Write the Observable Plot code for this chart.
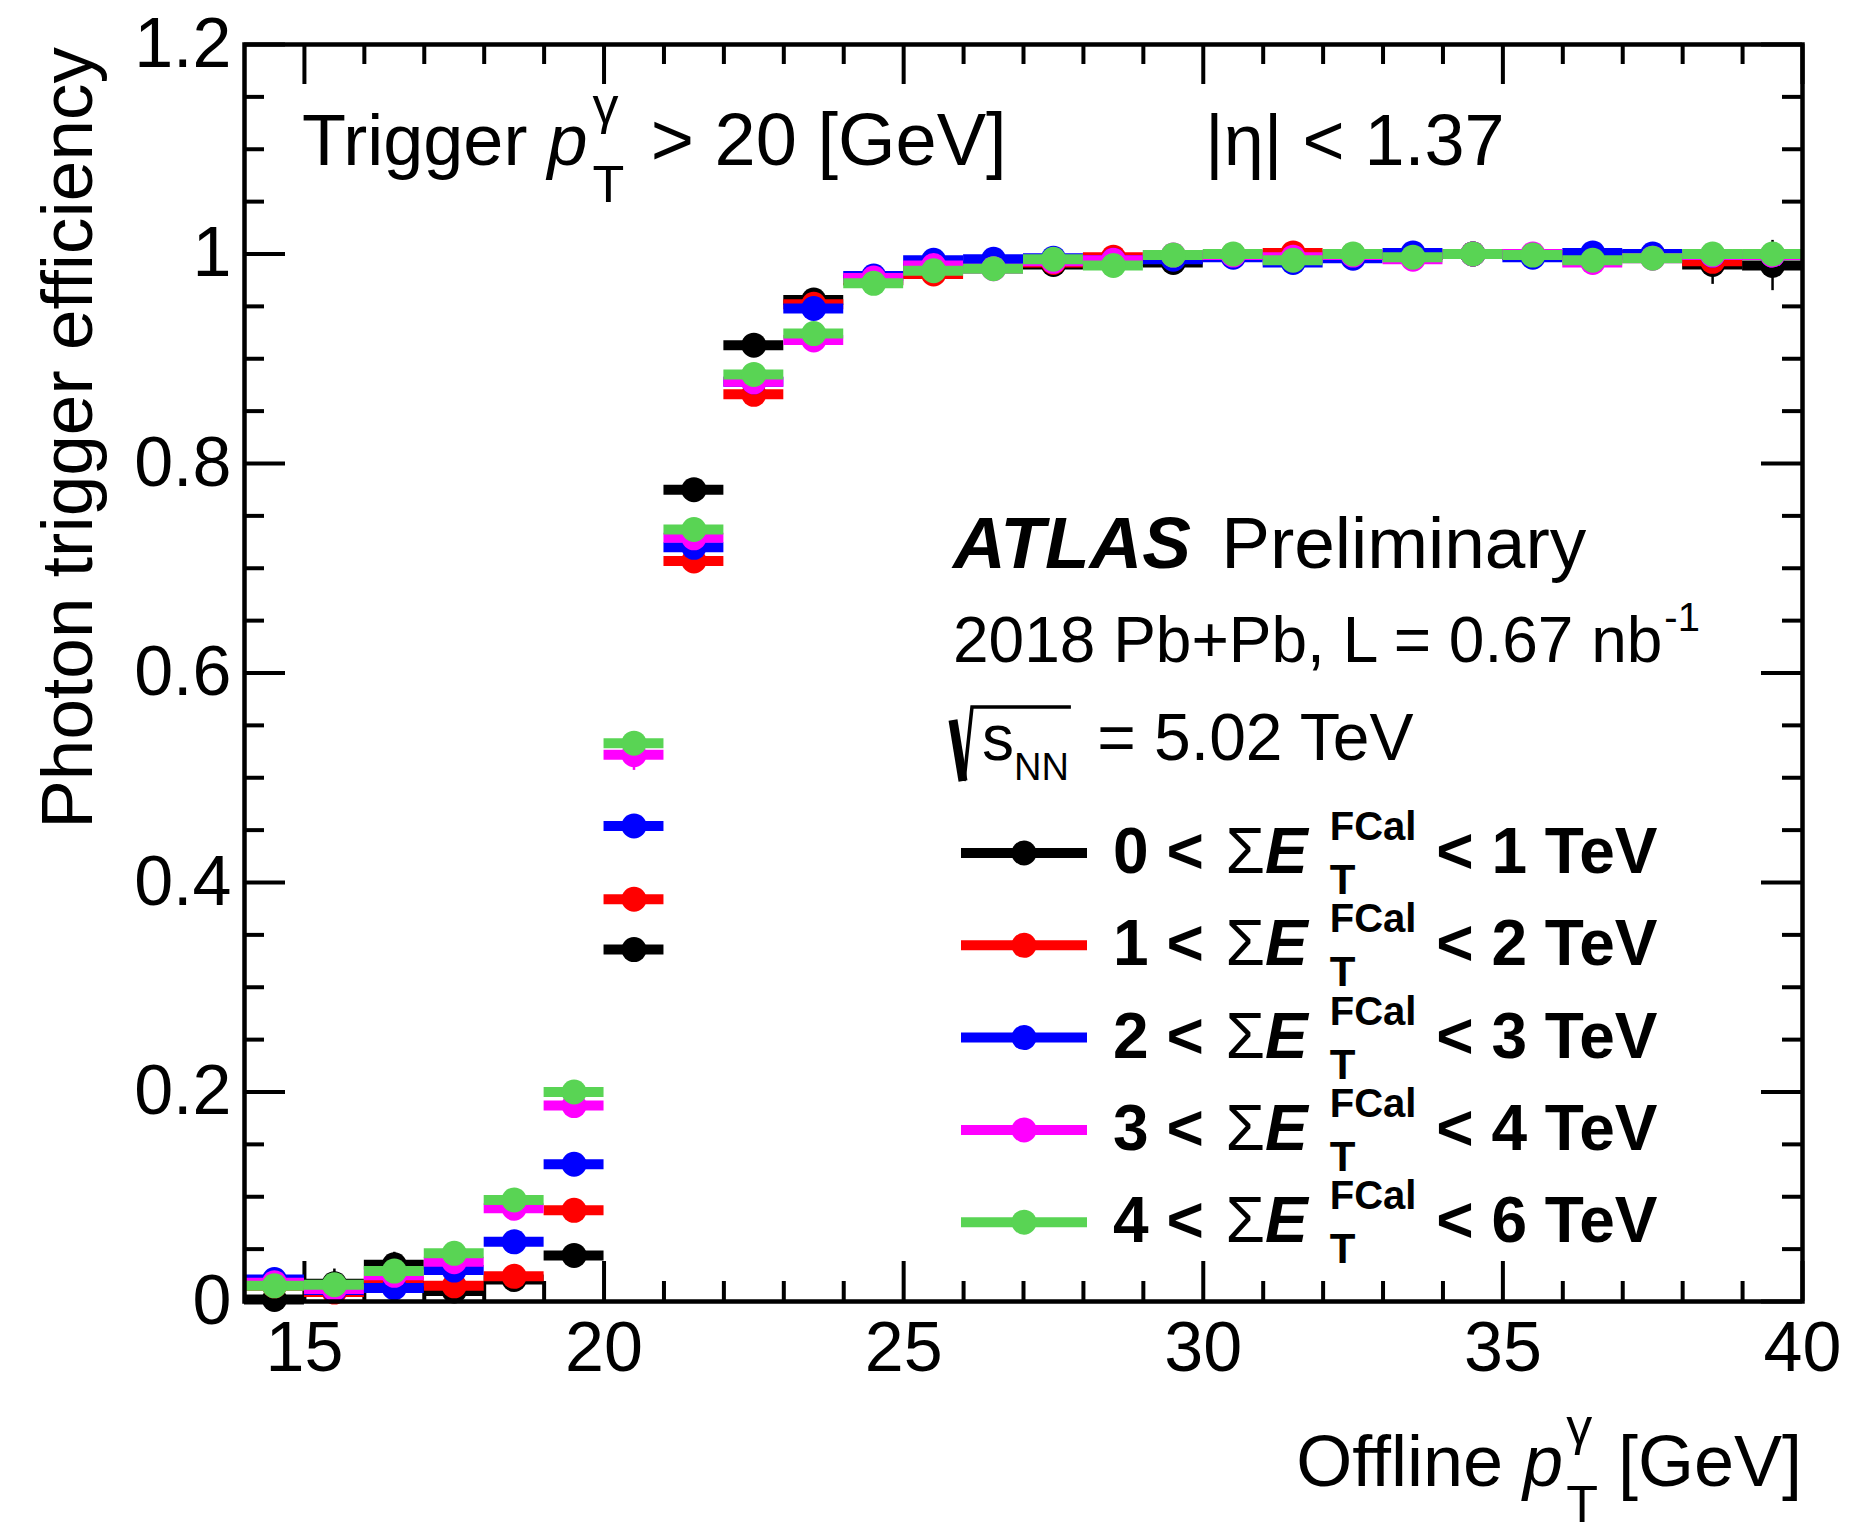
<!DOCTYPE html>
<html>
<head>
<meta charset="utf-8">
<script src="https://cdn.jsdelivr.net/npm/d3@7"></script>
<script src="https://cdn.jsdelivr.net/npm/@observablehq/plot@0.6"></script>
<style>
html, body { margin: 0; padding: 0; background: #ffffff; }
#chart svg { display: block; }
</style>
</head>
<body>
<div id="chart"></div>
<script>
// ---------------- DATA ----------------
const binLow    = [14, 15, 16, 17, 18, 19, 20, 21, 22, 23, 24, 25, 26, 27, 28, 29, 30, 31, 32, 33, 34, 35, 36, 37, 38, 39];
const binHigh   = [15, 16, 17, 18, 19, 20, 21, 22, 23, 24, 25, 26, 27, 28, 29, 30, 31, 32, 33, 34, 35, 36, 37, 38, 39, 40];
const binCenter = [14.5, 15.5, 16.5, 17.5, 18.5, 19.5, 20.5, 21.5, 22.5, 23.5, 24.5, 25.5, 26.5, 27.5, 28.5, 29.5, 30.5, 31.5, 32.5, 33.5, 34.5, 35.5, 36.5, 37.5, 38.5, 39.5];

const effFCal0to1 = [0.002, 0.017, 0.035, 0.010, 0.021, 0.044, 0.336, 0.775, 0.913, 0.956, 0.975, 0.986, 0.988, 0.990, 0.993, 0.992, 0.999, 0.998, 0.999, 0.999, 1.000, 0.999, 0.999, 0.999, 0.990, 0.989];
const effFCal1to2 = [0.015, 0.009, 0.019, 0.015, 0.024, 0.087, 0.384, 0.707, 0.866, 0.952, 0.975, 0.981, 0.988, 0.992, 0.997, 0.997, 0.999, 1.001, 0.999, 0.999, 1.000, 0.999, 0.998, 0.999, 0.993, 0.999];
const effFCal2to3 = [0.021, 0.011, 0.013, 0.030, 0.057, 0.131, 0.454, 0.720, 0.878, 0.948, 0.979, 0.994, 0.995, 0.996, 0.994, 0.995, 0.997, 0.992, 0.996, 1.001, 1.000, 0.997, 1.001, 1.000, 0.999, 0.999];
const effFCal3to4 = [0.018, 0.012, 0.025, 0.038, 0.089, 0.187, 0.522, 0.729, 0.878, 0.918, 0.977, 0.989, 0.986, 0.993, 0.994, 0.999, 0.999, 0.997, 0.999, 0.995, 1.000, 1.000, 0.992, 0.996, 0.999, 0.999];
const effFCal4to6 = [0.015, 0.016, 0.029, 0.046, 0.097, 0.200, 0.533, 0.737, 0.885, 0.924, 0.972, 0.984, 0.986, 0.995, 0.989, 0.999, 1.000, 0.994, 1.000, 0.997, 1.000, 0.999, 0.994, 0.996, 1.000, 1.000];

const errFCal0to1 = [0, 0.014, 0.012, 0, 0, 0, 0, 0, 0, 0, 0, 0, 0, 0, 0, 0, 0, 0, 0, 0, 0, 0, 0, 0, 0.019, 0.024];
const errFCal1to2 = [0, 0, 0, 0, 0, 0, 0, 0, 0, 0, 0, 0, 0, 0, 0, 0, 0, 0, 0, 0, 0, 0, 0, 0, 0, 0];
const errFCal2to3 = [0, 0, 0, 0, 0, 0, 0, 0, 0, 0, 0, 0, 0, 0, 0, 0, 0, 0, 0, 0, 0, 0, 0, 0, 0, 0];
const errFCal3to4 = [0, 0, 0, 0, 0, 0, 0.015, 0, 0, 0, 0, 0, 0, 0, 0, 0, 0, 0, 0, 0, 0, 0, 0, 0, 0, 0];
const errFCal4to6 = [0, 0, 0, 0, 0, 0, 0, 0, 0, 0, 0, 0, 0, 0, 0, 0, 0, 0, 0, 0, 0, 0, 0, 0, 0, 0];

const centralityLow  = [0, 1, 2, 3, 4];
const centralityHigh = [1, 2, 3, 4, 6];
const seriesColors   = ["#000000", "#ff0000", "#0000ff", "#ff00ff", "#59d454"];

const xMajorTicks = [15, 20, 25, 30, 35, 40];
const xMinorTicks = [16, 17, 18, 19, 21, 22, 23, 24, 26, 27, 28, 29, 31, 32, 33, 34, 36, 37, 38, 39];
const yMajorTicks = [0, 0.2, 0.4, 0.6, 0.8, 1, 1.2];
const yMinorTicks = [0.05, 0.1, 0.15, 0.25, 0.3, 0.35, 0.45, 0.5, 0.55, 0.65, 0.7, 0.75, 0.85, 0.9, 0.95, 1.05, 1.1, 1.15];

// ---------------- LAYOUT ----------------
const FONT = "'Liberation Sans', Arimo, Helvetica, Arial, sans-serif";
const W = 1849, H = 1523;
const mL = 244, mR = 47, mT = 44, mB = 222;
const frameW = W - mL - mR, frameH = H - mT - mB;
const majorLen = 40, minorLen = 20, tickW = 4;
const markerR = 12.5, barW = 10;

const effSeries = [effFCal0to1, effFCal1to2, effFCal2to3, effFCal3to4, effFCal4to6];
const errSeries = [errFCal0to1, errFCal1to2, errFCal2to3, errFCal3to4, errFCal4to6];

const rows = [];
effSeries.forEach((vals, s) => vals.forEach((v, i) => rows.push({
  s, lo: binLow[i], hi: binHigh[i], x: binCenter[i], y: v, err: errSeries[s][i]
})));

const marks = [];
// ticks (inside frame, all four sides)
marks.push(Plot.ruleX(xMinorTicks, {x: d => d, insetTop: frameH - minorLen, stroke: "#000", strokeWidth: tickW}));
marks.push(Plot.ruleX(xMinorTicks, {x: d => d, insetBottom: frameH - minorLen, stroke: "#000", strokeWidth: tickW}));
marks.push(Plot.ruleX(xMajorTicks, {x: d => d, insetTop: frameH - majorLen, stroke: "#000", strokeWidth: tickW}));
marks.push(Plot.ruleX(xMajorTicks, {x: d => d, insetBottom: frameH - majorLen, stroke: "#000", strokeWidth: tickW}));
marks.push(Plot.ruleY(yMinorTicks, {y: d => d, insetRight: frameW - minorLen, stroke: "#000", strokeWidth: tickW}));
marks.push(Plot.ruleY(yMinorTicks, {y: d => d, insetLeft: frameW - minorLen, stroke: "#000", strokeWidth: tickW}));
marks.push(Plot.ruleY(yMajorTicks, {y: d => d, insetRight: frameW - majorLen - 1, stroke: "#000", strokeWidth: tickW}));
marks.push(Plot.ruleY(yMajorTicks, {y: d => d, insetLeft: frameW - majorLen - 1, stroke: "#000", strokeWidth: tickW}));

// data series
effSeries.forEach((_, s) => {
  const rs = rows.filter(r => r.s === s);
  const col = seriesColors[s];
  marks.push(Plot.ruleX(rs.filter(r => r.err > 0), {x: "x", y1: r => r.y - r.err, y2: r => r.y + r.err, stroke: col, strokeWidth: 2.5}));
  marks.push(Plot.ruleY(rs, {y: "y", x1: "lo", x2: "hi", stroke: col, strokeWidth: barW}));
  marks.push(Plot.dot(rs, {x: "x", y: "y", r: markerR, fill: col, stroke: null}));
});

marks.push(Plot.axisX({ticks: xMajorTicks, tickSize: 0, tickPadding: 20, fontSize: 70, label: null, tickFormat: d => String(d)}));
marks.push(Plot.axisY({ticks: yMajorTicks, tickSize: 0, tickPadding: 13, fontSize: 70, label: null, tickFormat: d => String(d)}));
marks.push(Plot.frame({stroke: "#000", strokeWidth: 4.5}));

const plot = Plot.plot({
  width: W, height: H,
  marginLeft: mL, marginRight: mR, marginTop: mT, marginBottom: mB,
  x: {domain: [14, 40]},
  y: {domain: [0, 1.2]},
  style: {fontFamily: FONT, background: "#ffffff", color: "#000", overflow: "visible"},
  marks
});
document.getElementById("chart").appendChild(plot);

// ---------------- RICH TEXT ANNOTATIONS ----------------
const svg = d3.select(plot);
const ann = svg.append("g").attr("font-family", FONT).attr("fill", "#000").attr("text-anchor", "start");

function measure(txt, size, weight, style) {
  const t = ann.append("text").attr("font-size", size).attr("font-weight", weight || "normal")
    .attr("font-style", style || "normal").style("white-space", "pre").text(txt);
  const w = t.node().getComputedTextLength();
  t.remove();
  return w;
}
function put(x, y, txt, size, weight, style) {
  return ann.append("text").attr("x", x).attr("y", y).attr("font-size", size)
    .attr("font-weight", weight || "normal").attr("font-style", style || "normal")
    .attr("text-anchor", "start").style("white-space", "pre").text(txt);
}
function segWidth(seg) {
  if (seg.stack) {
    const a = seg.sup ? measure(seg.sup.t, seg.sup.size, seg.sup.weight, seg.sup.style) : 0;
    const b = seg.sub ? measure(seg.sub.t, seg.sub.size, seg.sub.weight, seg.sub.style) : 0;
    return Math.max(a, b) + (seg.gap || 0) + (seg.after || 0);
  }
  return measure(seg.t, seg.size, seg.weight, seg.style) + (seg.gap || 0) + (seg.after || 0);
}
function rich(x, y, segs, anchor) {
  const ws = segs.map(segWidth);
  const total = d3.sum(ws);
  let cx = anchor === "end" ? x - total : x;
  segs.forEach((seg, i) => {
    const x0 = cx + (seg.gap || 0);
    if (seg.stack) {
      if (seg.sup) put(x0, y + seg.sup.dy, seg.sup.t, seg.sup.size, seg.sup.weight, seg.sup.style);
      if (seg.sub) put(x0, y + seg.sub.dy, seg.sub.t, seg.sub.size, seg.sub.weight, seg.sub.style);
    } else {
      put(x0, y, seg.t, seg.size, seg.weight, seg.style);
    }
    cx += ws[i];
  });
  return {x0: anchor === "end" ? x - total : x, width: total};
}

const BIG = 72, SMALL = 64, SCRIPT = 52;

// Trigger label
rich(302, 165, [
  {t: "Trigger ", size: BIG},
  {t: "p", size: BIG, style: "italic"},
  {stack: true, gap: 5, after: 6, sup: {t: "γ", size: SCRIPT, dy: -42}, sub: {t: "T", size: SCRIPT, dy: 37}},
  {t: " > 20 [GeV]", size: 74}
]);
// eta label
rich(1205, 165, [{t: "|η| < 1.37", size: BIG}]);

// ATLAS label
rich(953, 568, [
  {t: "ATLAS", size: 73, weight: "bold", style: "italic"},
  {t: " Preliminary", size: 73, gap: 10}
]);
rich(953, 662, [
  {t: "2018 Pb+Pb, L = 0.67 nb", size: SMALL},
  {stack: true, gap: 2, sup: {t: "-1", size: 40, dy: -31}}
]);
// sqrt(s_NN) line
{
  const x0 = 953, base = 760;
  ann.append("path").attr("d", `M${x0},${base - 40} L${x0 + 10},${base + 21}`)
    .attr("stroke", "#000").attr("stroke-width", 9).attr("fill", "none");
  rich(x0 + 29, base, [
    {t: "s", size: SMALL},
    {stack: true, sub: {t: "NN", size: 38, dy: 20}, after: 10},
    {t: " = 5.02 TeV", size: 66}
  ]);
  const nnEnd = x0 + 29 + measure("s", SMALL) + measure("NN", 38);
  ann.append("path").attr("d", `M${x0 + 11},${base + 21} L${x0 + 19},${base - 53} L${nnEnd + 2},${base - 53}`)
    .attr("stroke", "#000").attr("stroke-width", 3.5).attr("fill", "none").attr("stroke-linejoin", "miter");
}

// Legend
const legX1 = 961, legX2 = 1087, legTextX = 1113, legBase0 = 873, legStep = 92.3;
centralityLow.forEach((lo, i) => {
  const base = legBase0 + i * legStep;
  const col = seriesColors[i];
  ann.append("line").attr("x1", legX1).attr("x2", legX2).attr("y1", base - 20).attr("y2", base - 20)
    .attr("stroke", col).attr("stroke-width", barW);
  ann.append("circle").attr("cx", (legX1 + legX2) / 2).attr("cy", base - 20).attr("r", markerR).attr("fill", col);
  rich(legTextX, base, [
    {t: `${lo} < `, size: SMALL, weight: "bold"},
    {t: "Σ", size: SMALL, gap: 4},
    {t: "E", size: SMALL, weight: "bold", style: "italic"},
    {stack: true, gap: 22,
      sup: {t: "FCal", size: 40, weight: "bold", dy: -33},
      sub: {t: "T", size: 42, weight: "bold", dy: 21}},
    {t: ` < ${centralityHigh[i]} TeV`, size: SMALL, weight: "bold", gap: 2}
  ]);
});

// Axis titles
rich(mL + frameW, 1486, [
  {t: "Offline ", size: BIG},
  {t: "p", size: BIG, style: "italic"},
  {stack: true, gap: 3, sup: {t: "γ", size: SCRIPT, dy: -42}, sub: {t: "T", size: SCRIPT, dy: 36}},
  {t: " [GeV]", size: BIG}
], "end");

ann.append("text").attr("transform", "translate(92,47) rotate(-90)")
  .attr("text-anchor", "end").attr("font-size", 73).text("Photon trigger efficiency");
</script>
</body>
</html>
